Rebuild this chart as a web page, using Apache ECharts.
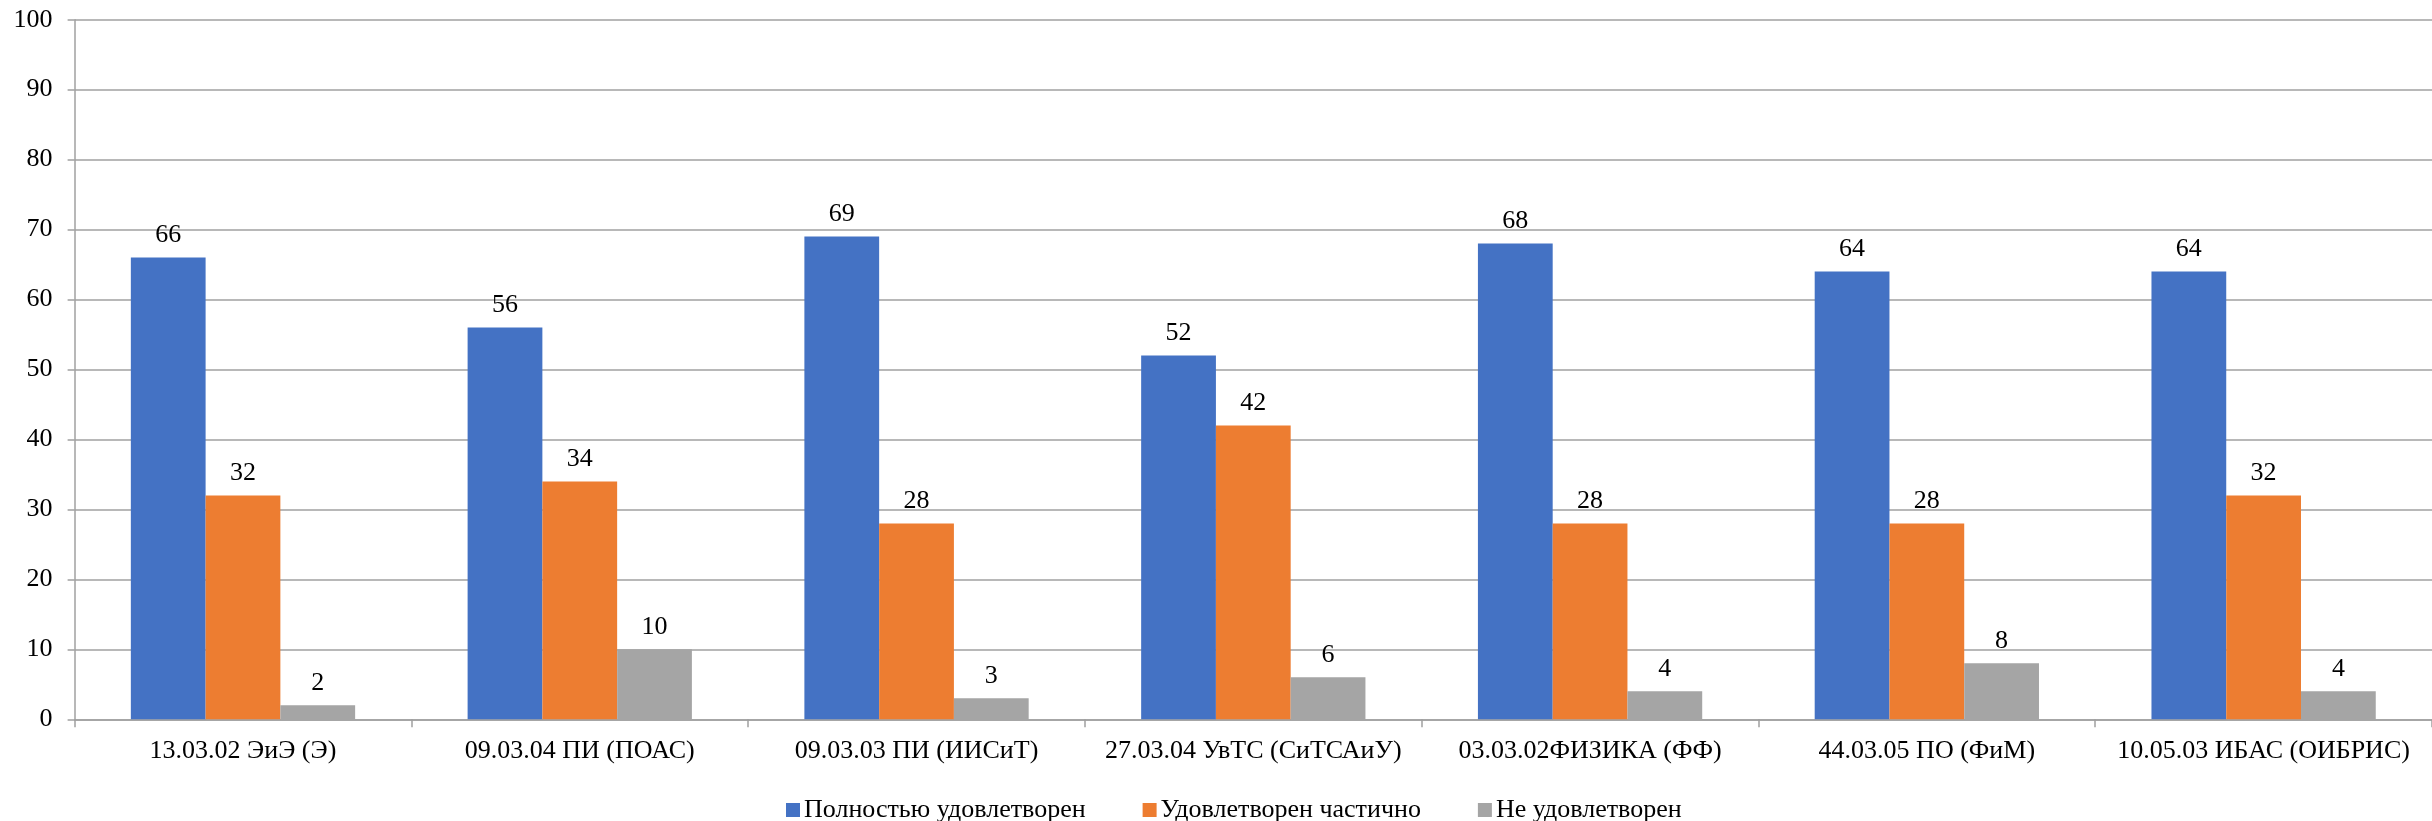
<!DOCTYPE html>
<html>
<head>
<meta charset="utf-8">
<script src="https://cdn.jsdelivr.net/npm/echarts@6/dist/echarts.min.js"></script>
<style>
html,body{margin:0;padding:0;background:#fff;}
#chart{width:2432px;height:821px;}
</style>
</head>
<body>
<div id="chart"></div>
<script>
const categories = ["13.03.02 ЭиЭ (Э)", "09.03.04 ПИ (ПОАС)", "09.03.03 ПИ (ИИСиТ)", "27.03.04 УвТС (СиТСАиУ)", "03.03.02ФИЗИКА (ФФ)", "44.03.05 ПО (ФиМ)", "10.05.03 ИБАС (ОИБРИС)"];
const seriesNames = ["Полностью удовлетворен", "Удовлетворен частично", "Не удовлетворен"];
const fullySatisfied = [66, 56, 69, 52, 68, 64, 64];
const partlySatisfied = [32, 34, 28, 42, 28, 28, 32];
const notSatisfied = [2, 10, 3, 6, 4, 8, 4];
const colors = ["#4472C4", "#ED7D31", "#A5A5A5"];

const font = "'Liberation Serif', 'Times New Roman', serif";
const chart = echarts.init(document.getElementById('chart'));

function mk(name, data, color) {
  return {
    name: name,
    type: 'bar',
    data: data,
    barGap: '0%',
    barCategoryGap: '33.4%',
    itemStyle: { color: color },
    label: {
      show: true,
      position: 'top',
      distance: 9,
      color: '#000',
      fontFamily: font,
      fontSize: 26
    }
  };
}

chart.setOption({
  animation: false,
  backgroundColor: '#fff',
  color: colors,
  grid: { left: 74.6, right: -6.4, top: 19.7, bottom: 101.7, containLabel: false },
  legend: {
    data: seriesNames,
    left: 781,
    top: 792,
    icon: 'rect',
    itemWidth: 14,
    itemHeight: 14,
    itemGap: 57,
    textStyle: { fontFamily: font, fontSize: 26, color: '#000', padding: [0, 0, 0, -1] }
  },
  xAxis: {
    type: 'category',
    data: categories,
    axisLine: { lineStyle: { color: '#A0A0A0', width: 1.5 } },
    axisTick: { show: true, length: 8, lineStyle: { color: '#A0A0A0', width: 1.5 } },
    axisLabel: { fontFamily: font, fontSize: 26, color: '#000', margin: 19, interval: 0 }
  },
  yAxis: {
    type: 'value',
    min: 0,
    max: 100,
    interval: 10,
    axisLine: { show: true, lineStyle: { color: '#A0A0A0', width: 1.5 } },
    axisTick: { show: true, length: 7, lineStyle: { color: '#A0A0A0', width: 1.5 } },
    axisLabel: { fontFamily: font, fontSize: 26, color: '#000', margin: 22 },
    splitLine: { show: true, lineStyle: { color: '#A0A0A0', width: 1.5 } }
  },
  series: [
    mk(seriesNames[0], fullySatisfied, colors[0]),
    mk(seriesNames[1], partlySatisfied, colors[1]),
    mk(seriesNames[2], notSatisfied, colors[2])
  ]
});
</script>
</body>
</html>
